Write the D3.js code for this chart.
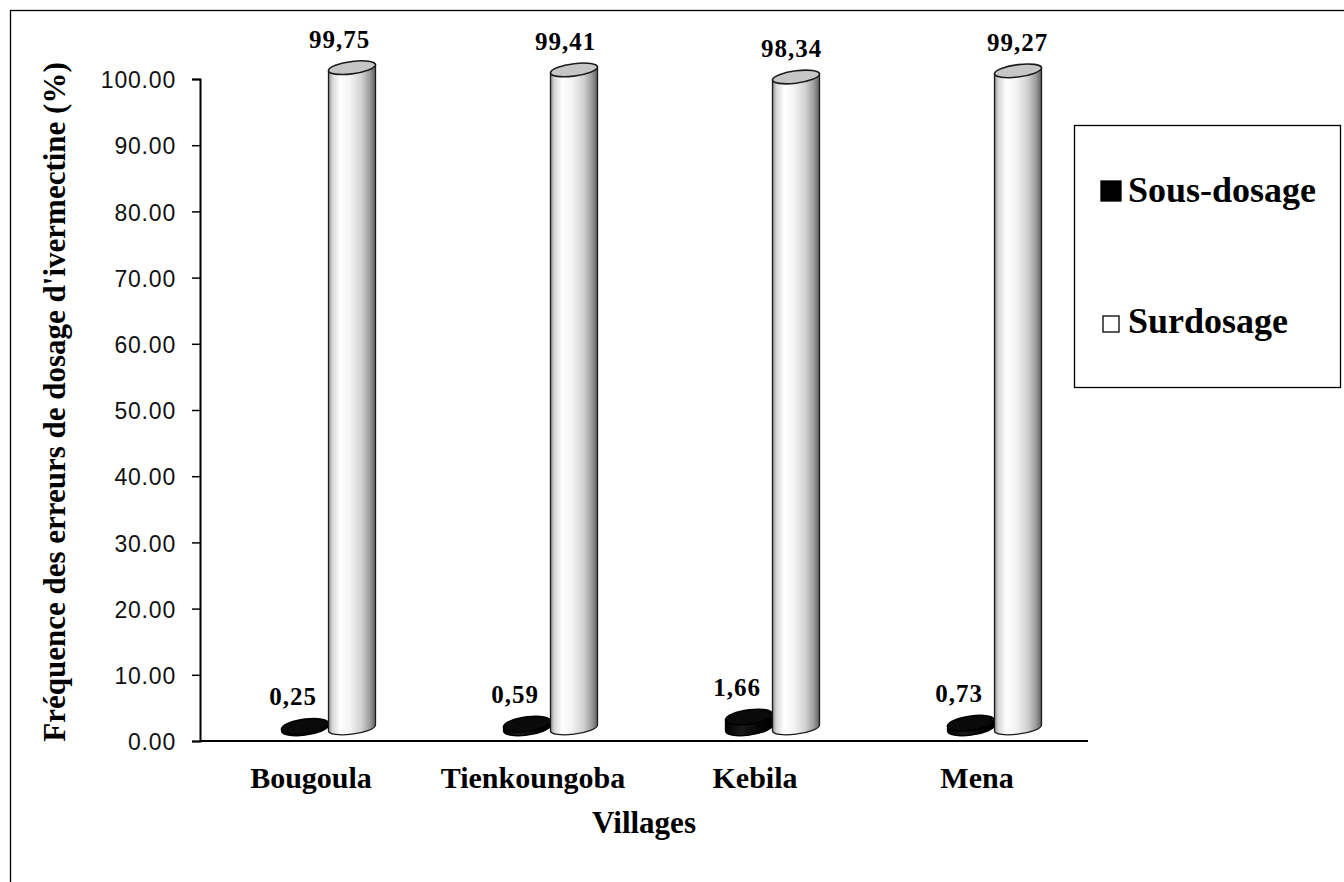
<!DOCTYPE html>
<html>
<head>
<meta charset="utf-8">
<script src="https://cdn.jsdelivr.net/npm/d3@7"></script>
<style>
  html, body { margin: 0; padding: 0; background: #fff; overflow: hidden; }
  svg { display: block; }
</style>
</head>
<body>
<svg id="chart" width="1344" height="882"></svg>
<script>
// Ivermectin dosing error frequency by village (%)
const categories = ["Bougoula", "Tienkoungoba", "Kebila", "Mena"];
const seriesNames = ["Sous-dosage", "Surdosage"];
const sousDosage = [0.25, 0.59, 1.66, 0.73];
const surdosage = [99.75, 99.41, 98.34, 99.27];
const yTicks = [0, 10, 20, 30, 40, 50, 60, 70, 80, 90, 100];
const yTitle = "Fréquence des erreurs de dosage d'ivermectine (%)";
const xTitle = "Villages";

const svg = d3.select("#chart");
const serif = "'Liberation Serif', 'Times New Roman', serif";
const sans = "'Liberation Sans', Arial, sans-serif";

const plot = { left: 200, right: 1088, top: 79, bottom: 741 };
const depth = { dx: 17.5, dy: 13 };   // 3D floor offset of the cylinders
const rx = 23.5, skew = -7;

const x = d3.scaleBand().domain(categories).range([plot.left, plot.right]).padding(0);
const y = d3.scaleLinear().domain([0, 100]).range([plot.bottom, plot.top]);
const yc = d3.scaleLinear().domain([0, 100]).range([plot.bottom - depth.dy, plot.top - depth.dy]);

const fr = d3.formatLocale({ decimal: ",", thousands: " ", grouping: [3], currency: ["", ""] });
const fmtVal = fr.format(".2f");

// outer chart frame
svg.append("rect").attr("x", 10.5).attr("y", 10.5).attr("width", 1400).attr("height", 1000)
  .attr("fill", "none").attr("stroke", "#000").attr("stroke-width", 1.3);

// gradients
const defs = svg.append("defs");
const gWhite = defs.append("linearGradient").attr("id", "gWhite").attr("x1", "0").attr("x2", "1").attr("y1", "0").attr("y2", "0");
[[0, "#8c8c8c"], [0.08, "#d6d6d6"], [0.25, "#ffffff"], [0.45, "#f4f4f4"], [0.7, "#d2d2d2"], [0.88, "#9c9c9c"], [1, "#5e5e5e"]]
  .forEach(([o, c]) => gWhite.append("stop").attr("offset", o).attr("stop-color", c));
const gBlack = defs.append("linearGradient").attr("id", "gBlack").attr("x1", "0").attr("x2", "1").attr("y1", "0").attr("y2", "0");
[[0, "#000"], [0.35, "#1a1a1a"], [0.7, "#050505"], [1, "#000"]]
  .forEach(([o, c]) => gBlack.append("stop").attr("offset", o).attr("stop-color", c));

// y axis
const yAxis = d3.axisLeft(y).tickValues(yTicks).tickFormat(d3.format(".2f")).tickSize(8).tickPadding(16);
const gy = svg.append("g").attr("transform", `translate(${plot.left},0)`).call(yAxis);
gy.select(".domain").attr("stroke", "#000").attr("stroke-width", 2);
gy.selectAll(".tick line").attr("stroke", "#000").attr("stroke-width", 1.5);
gy.selectAll(".tick text").attr("font-family", sans).attr("font-size", 23).attr("fill", "#111")
  .attr("letter-spacing", 0.8).attr("dy", "0.38em");

// x axis line
svg.append("line").attr("x1", plot.left).attr("x2", plot.right).attr("y1", plot.bottom).attr("y2", plot.bottom)
  .attr("stroke", "#000").attr("stroke-width", 2.2);

// category labels
svg.append("g").selectAll("text").data(categories).join("text")
  .attr("x", d => x(d) + x.bandwidth() / 2).attr("y", 788)
  .attr("text-anchor", "middle").attr("font-family", serif).attr("font-weight", "bold")
  .attr("font-size", 30).text(d => d);

// axis titles
svg.append("text").attr("x", (plot.left + plot.right) / 2).attr("y", 833)
  .attr("text-anchor", "middle").attr("font-family", serif).attr("font-weight", "bold")
  .attr("font-size", 31).text(xTitle);
svg.append("text").attr("transform", "translate(65,402) rotate(-90)")
  .attr("text-anchor", "middle").attr("font-family", serif).attr("font-weight", "bold")
  .attr("font-size", 31).text(yTitle);

// cylinder helper
function cylinder(g, cx, value, ry, bodyFill, topFill, stroke) {
  const yTop = yc(value), yBase = yc(0);
  const c = g.append("g").attr("transform", `translate(${cx},0) skewY(${skew})`);
  c.append("path")
    .attr("d", `M${-rx},${yTop} L${-rx},${yBase} A${rx},${ry} 0 0 0 ${rx},${yBase} L${rx},${yTop} Z`)
    .attr("fill", bodyFill).attr("stroke", stroke).attr("stroke-width", 1.3);
  c.append("ellipse").attr("cx", 0).attr("cy", yTop).attr("rx", rx).attr("ry", ry)
    .attr("fill", topFill).attr("stroke", stroke).attr("stroke-width", 1.6);
}

const data = categories.map((c, i) => ({ cat: c, sous: sousDosage[i], sur: surdosage[i] }));
const bars = svg.append("g");
data.forEach(d => {
  const pc = x(d.cat) + x.bandwidth() / 2 + depth.dx;
  cylinder(bars, pc - rx, d.sous, 7.2, "url(#gBlack)", "#0a0a0a", "#000");
  cylinder(bars, pc + rx, d.sur, 6.2, "url(#gWhite)", "#c6c6c6", "#1a1a1a");
});

// value labels
const labels = svg.append("g").attr("font-family", serif).attr("font-weight", "bold").attr("font-size", 25)
  .attr("letter-spacing", 1).attr("text-anchor", "middle");
data.forEach(d => {
  const pc = x(d.cat) + x.bandwidth() / 2 + depth.dx;
  const shift = 0.018 * (plot.right - 70 - pc);
  labels.append("text").attr("x", pc - rx - 12).attr("y", yc(d.sous) - 21)
    .text(fmtVal(d.sous));
  labels.append("text").attr("x", pc + rx - shift).attr("y", yc(d.sur) - 20)
    .text(fmtVal(d.sur));
});

// legend
const lg = svg.append("g");
lg.append("rect").attr("x", 1074.5).attr("y", 125.5).attr("width", 266).attr("height", 262)
  .attr("fill", "#fff").attr("stroke", "#000").attr("stroke-width", 1.3);
const legendRows = [{ name: seriesNames[0], fill: "#000", y: 202, size: 20 }, { name: seriesNames[1], fill: "#fff", y: 333, size: 16 }];
legendRows.forEach(r => {
  lg.append("rect").attr("x", 1101 + (20 - r.size) / 2).attr("y", r.y - r.size - 1)
    .attr("width", r.size).attr("height", r.size)
    .attr("fill", r.fill).attr("stroke", "#000").attr("stroke-width", 1.3);
  lg.append("text").attr("x", 1128).attr("y", r.y).attr("font-family", serif).attr("font-weight", "bold")
    .attr("font-size", 36).text(r.name);
});
</script>
</body>
</html>
